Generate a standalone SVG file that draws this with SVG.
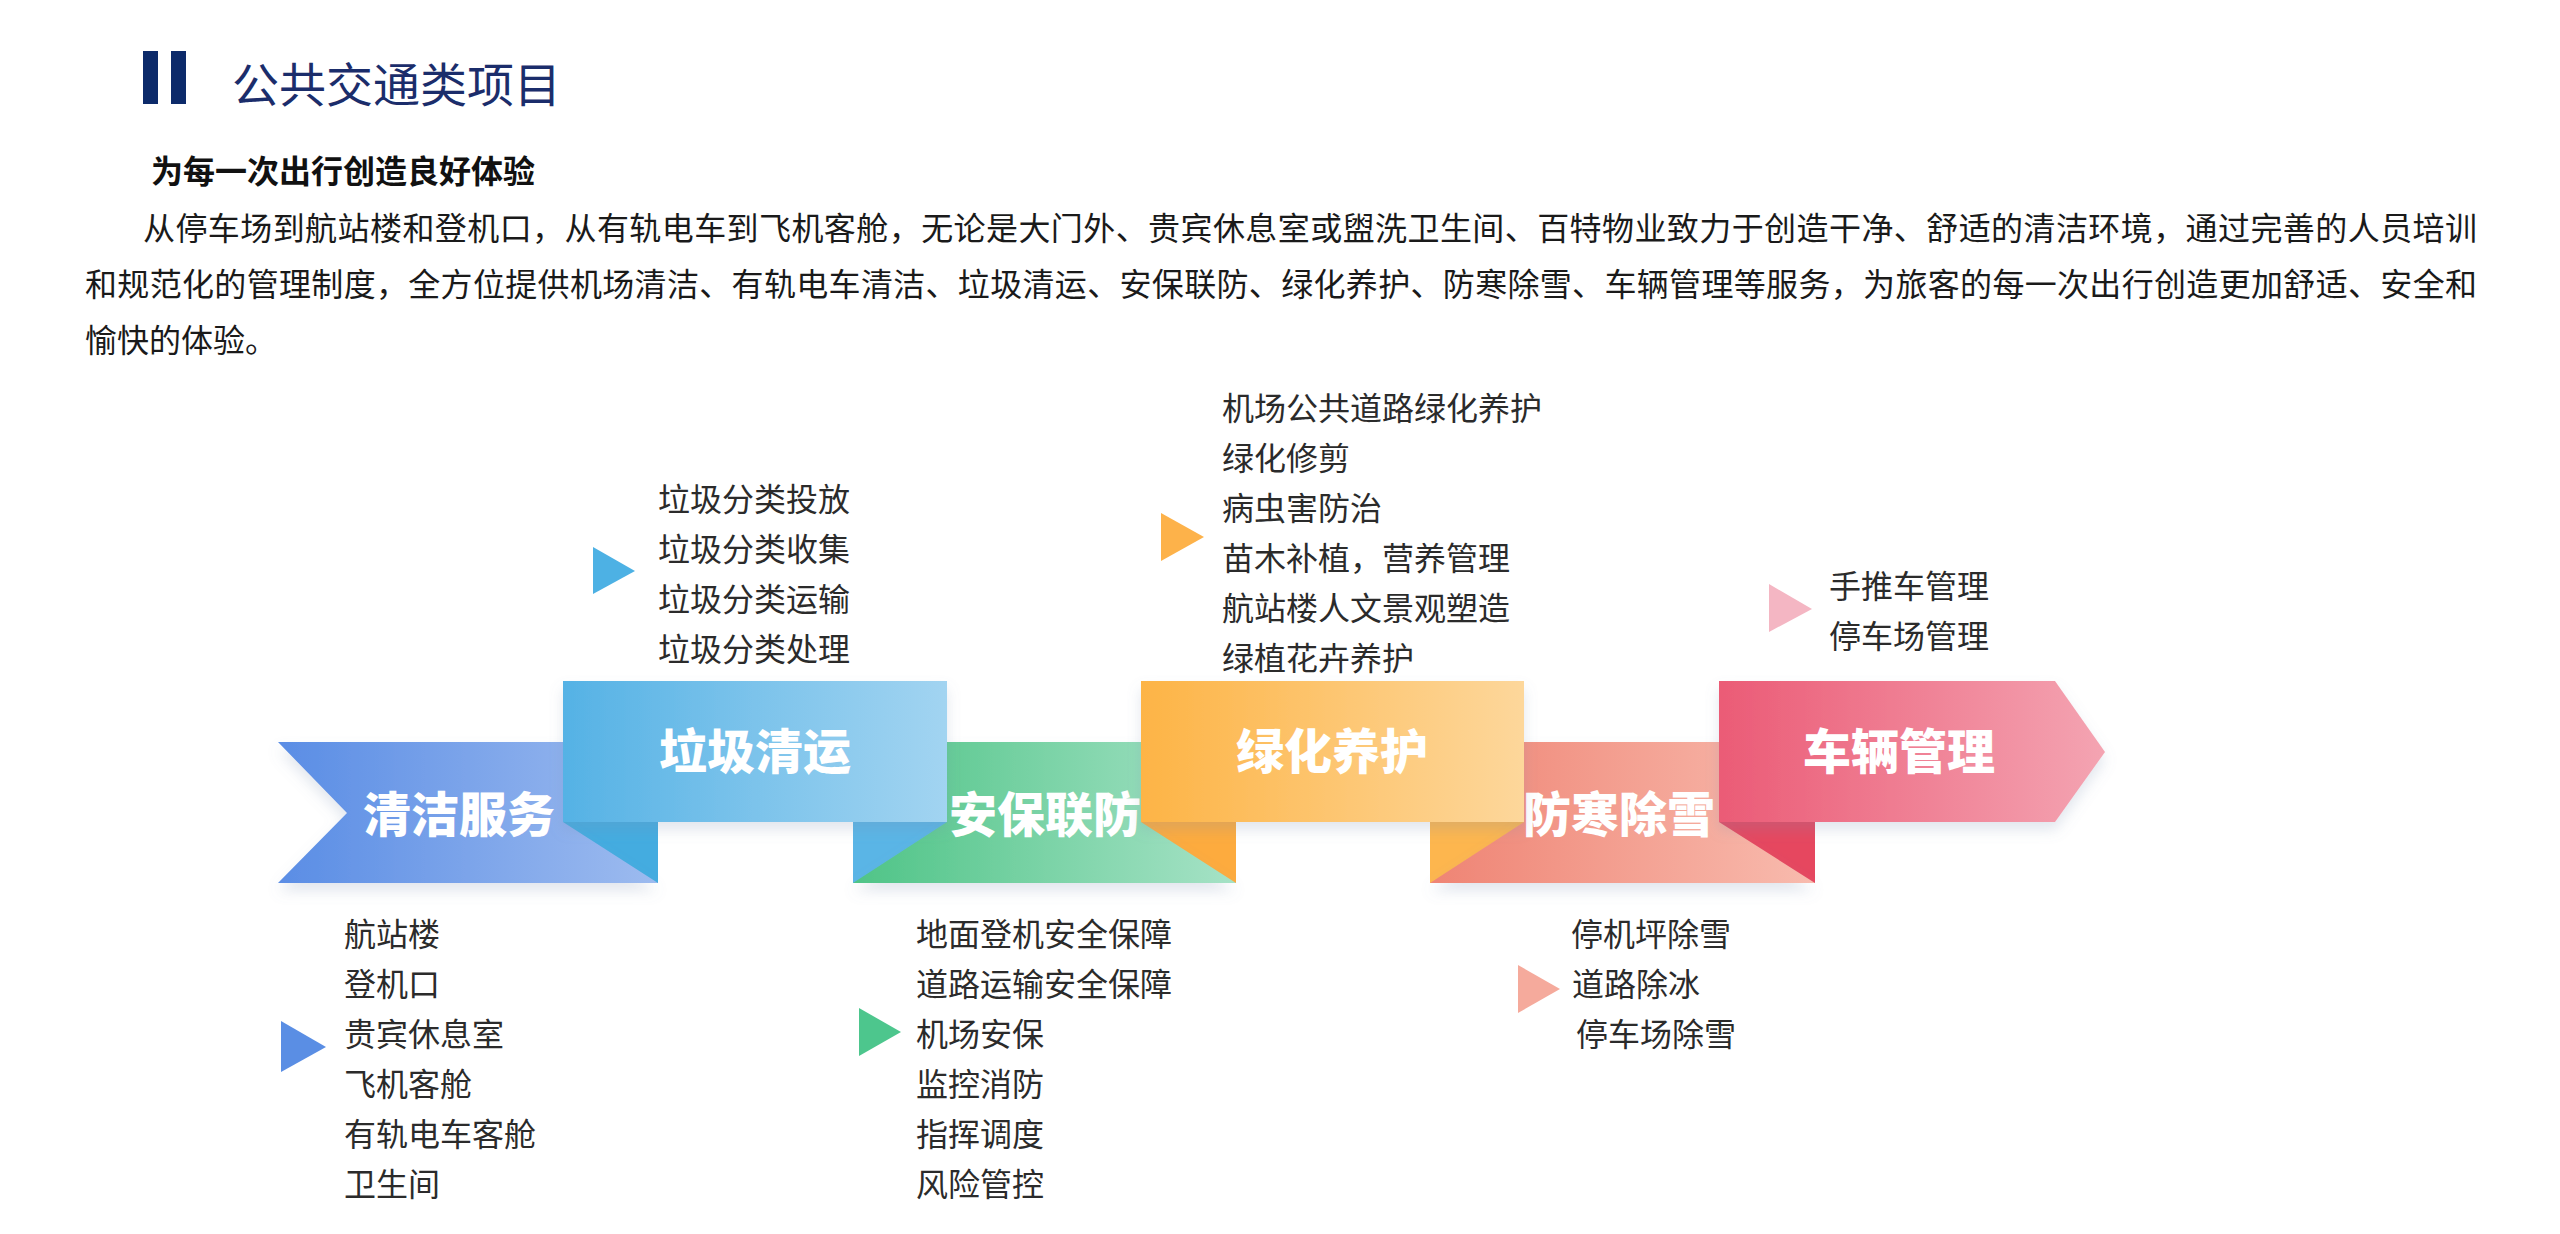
<svg xmlns="http://www.w3.org/2000/svg" width="2560" height="1234" viewBox="0 0 2560 1234">
<style>
text{font-family:"Noto Sans CJK SC","Noto Sans",sans-serif;}
.para{font-size:32px;fill:#1a1a1a;}
.sub{font-size:32px;font-weight:700;fill:#111;}
.title{font-size:47px;fill:#1b2d6b;}
.item{font-size:32px;fill:#2b2b2b;}
.lbl{font-size:48px;font-weight:900;fill:#ffffff;text-anchor:middle;}
</style>
<defs>
<filter id="sh" x="-10%" y="-20%" width="120%" height="150%">
<feGaussianBlur in="SourceAlpha" stdDeviation="7"/>
<feOffset dy="8" result="b"/>
<feFlood flood-color="#7a8fb0" flood-opacity="0.22"/>
<feComposite in2="b" operator="in"/>
<feMerge><feMergeNode/><feMergeNode in="SourceGraphic"/></feMerge>
</filter>
<linearGradient id="gBlue" x1="0" x2="1" y1="0" y2="0"><stop offset="0" stop-color="#5a8de5"/><stop offset="1" stop-color="#9dbbef"/></linearGradient>
<linearGradient id="gSky" x1="0" x2="1" y1="0" y2="0"><stop offset="0" stop-color="#55b2e5"/><stop offset="1" stop-color="#a2d4f1"/></linearGradient>
<linearGradient id="gGreen" x1="0" x2="1" y1="0" y2="0"><stop offset="0" stop-color="#4fc487"/><stop offset="1" stop-color="#a6e2c6"/></linearGradient>
<linearGradient id="gOrange" x1="0" x2="1" y1="0" y2="0"><stop offset="0" stop-color="#fdb446"/><stop offset="1" stop-color="#fdd79b"/></linearGradient>
<linearGradient id="gSalmon" x1="0" x2="1" y1="0" y2="0"><stop offset="0" stop-color="#ef8474"/><stop offset="1" stop-color="#f8bbae"/></linearGradient>
<linearGradient id="gPink" x1="0" x2="1" y1="0" y2="0"><stop offset="0" stop-color="#eb5b76"/><stop offset="1" stop-color="#f4a4b2"/></linearGradient>
</defs>
<rect width="2560" height="1234" fill="#ffffff"/>

<g id="header">
<rect x="143" y="51" width="15" height="53" fill="#0c2a6a"/>
<rect x="171" y="51" width="15" height="53" fill="#0c2a6a"/>
<text class="title" x="232" y="102">公共交通类项目</text>
<text class="sub" x="151" y="183">为每一次出行创造良好体验</text>
<text class="para" x="143" y="240" textLength="2334" lengthAdjust="spacing">从停车场到航站楼和登机口，从有轨电车到飞机客舱，无论是大门外、贵宾休息室或盥洗卫生间、百特物业致力于创造干净、舒适的清洁环境，通过完善的人员培训</text>
<text class="para" x="85" y="296" textLength="2392" lengthAdjust="spacing">和规范化的管理制度，全方位提供机场清洁、有轨电车清洁、垃圾清运、安保联防、绿化养护、防寒除雪、车辆管理等服务，为旅客的每一次出行创造更加舒适、安全和</text>
<text class="para" x="85" y="352">愉快的体验。</text>
</g>

<g id="folds">
<rect x="563" y="820" width="95" height="63" fill="#44ace0"/>
<rect x="853" y="820" width="94" height="63" fill="#5ab5e6"/>
<rect x="1141" y="820" width="95" height="63" fill="#fdab3e"/>
<rect x="1430" y="820" width="94" height="63" fill="#fdb64e"/>
<rect x="1719" y="820" width="96" height="63" fill="#e6475f"/>
</g>

<g id="connectors"></g>

<g id="node-qingjie">
<polygon points="278,742 563,742 563,822 658,883 278,883 347,813" fill="url(#gBlue)" filter="url(#sh)"/>
<text class="lbl" x="459" y="832">清洁服务</text>
<polygon points="281,1021 326,1047 281,1072" fill="#5a8ee4"/>
<text class="item" x="344" y="946">航站楼</text>
<text class="item" x="344" y="996">登机口</text>
<text class="item" x="344" y="1046">贵宾休息室</text>
<text class="item" x="344" y="1096">飞机客舱</text>
<text class="item" x="344" y="1146">有轨电车客舱</text>
<text class="item" x="344" y="1196">卫生间</text>
</g>

<g id="node-anbao">
<polygon points="947,742 1141,742 1141,822 1236,883 853,883 947,822" fill="url(#gGreen)" filter="url(#sh)"/>
<text class="lbl" x="1045" y="832">安保联防</text>
<polygon points="859,1008 901,1032 859,1056" fill="#4dc68d"/>
<text class="item" x="916" y="946">地面登机安全保障</text>
<text class="item" x="916" y="996">道路运输安全保障</text>
<text class="item" x="916" y="1046">机场安保</text>
<text class="item" x="916" y="1096">监控消防</text>
<text class="item" x="916" y="1146">指挥调度</text>
<text class="item" x="916" y="1196">风险管控</text>
</g>

<g id="node-fanghan">
<polygon points="1524,742 1719,742 1719,822 1815,883 1430,883 1524,822" fill="url(#gSalmon)" filter="url(#sh)"/>
<text class="lbl" x="1619" y="832">防寒除雪</text>
<polygon points="1518,965 1560,989 1518,1013" fill="#f5aa9c"/>
<text class="item" x="1571" y="946">停机坪除雪</text>
<text class="item" x="1572" y="996">道路除冰</text>
<text class="item" x="1576" y="1046">停车场除雪</text>
</g>

<g id="node-laji">
<rect x="563" y="681" width="384" height="141" fill="url(#gSky)" filter="url(#sh)"/>
<text class="lbl" x="755" y="769">垃圾清运</text>
<polygon points="593,547 635,571 593,594" fill="#4db1e4"/>
<text class="item" x="658" y="511">垃圾分类投放</text>
<text class="item" x="658" y="561">垃圾分类收集</text>
<text class="item" x="658" y="611">垃圾分类运输</text>
<text class="item" x="658" y="661">垃圾分类处理</text>
</g>

<g id="node-lvhua">
<rect x="1141" y="681" width="383" height="141" fill="url(#gOrange)" filter="url(#sh)"/>
<text class="lbl" x="1332" y="769">绿化养护</text>
<polygon points="1161,513 1204,537 1161,561" fill="#fdb24a"/>
<text class="item" x="1222" y="420">机场公共道路绿化养护</text>
<text class="item" x="1222" y="470">绿化修剪</text>
<text class="item" x="1222" y="520">病虫害防治</text>
<text class="item" x="1222" y="570">苗木补植，营养管理</text>
<text class="item" x="1222" y="620">航站楼人文景观塑造</text>
<text class="item" x="1222" y="670">绿植花卉养护</text>
</g>

<g id="node-cheliang">
<polygon points="1719,681 2055,681 2105,752 2055,822 1719,822" fill="url(#gPink)" filter="url(#sh)"/>
<text class="lbl" x="1899" y="769">车辆管理</text>
<polygon points="1769,584 1812,609 1769,632" fill="#f4b6c3"/>
<text class="item" x="1829" y="598">手推车管理</text>
<text class="item" x="1829" y="648">停车场管理</text>
</g>
</svg>
